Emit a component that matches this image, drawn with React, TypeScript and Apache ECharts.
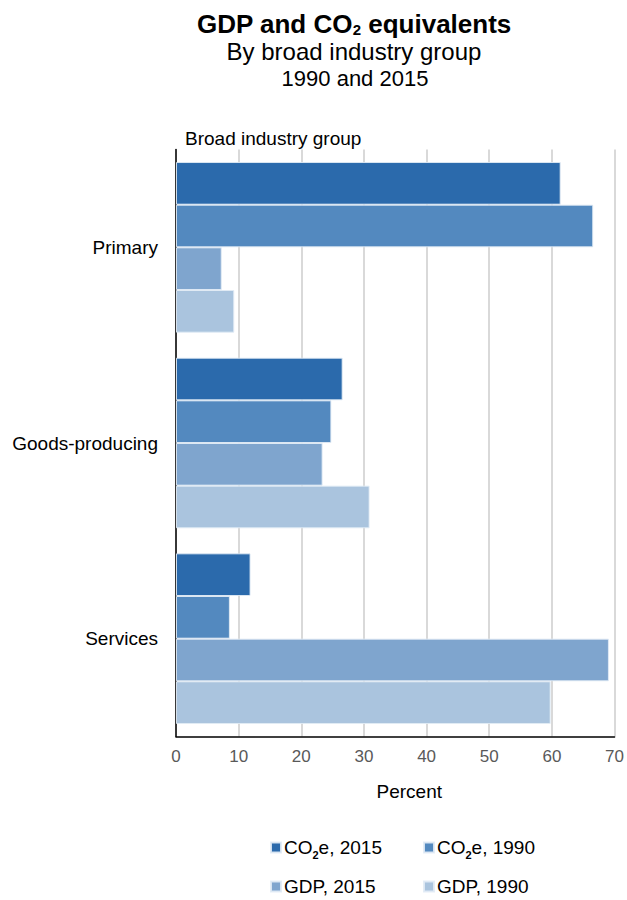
import React, { useEffect, useRef } from "react";
import * as echarts from "echarts";

const categories = ["Primary", "Goods-producing", "Services"];
const seriesNames = ["CO2e, 2015", "CO2e, 1990", "GDP, 2015", "GDP, 1990"];
const co2e2015 = [61.4, 26.6, 11.9];
const co2e1990 = [66.6, 24.8, 8.6];
const gdp2015 = [7.3, 23.4, 69.1];
const gdp1990 = [9.3, 30.9, 59.8];
const seriesValues = [co2e2015, co2e1990, gdp2015, gdp1990];
const colors = ["#2b6aac", "#5389bf", "#7fa5ce", "#aac4de"];
const xTicks = [0, 10, 20, 30, 40, 50, 60, 70];

const FONT = "'Liberation Sans', Arial, sans-serif";

function subName(name: string) {
  if (name.startsWith("CO2e")) {
    return "{a|CO}{s|2}{a|" + name.slice(3) + "}";
  }
  return "{a|" + name + "}";
}

export default function App() {
  const ref = useRef<HTMLDivElement>(null);
  useEffect(() => {
    if (!ref.current) return;
    const chart = echarts.init(ref.current, null, { renderer: "svg" });
    const legendPos = [
      { left: 270, top: 838 },
      { left: 423, top: 838 },
      { left: 270, top: 877 },
      { left: 423, top: 877 },
    ];
    const legendRich = {
      a: { fontSize: 19, color: "#000", fontFamily: FONT },
      s: { fontSize: 11, color: "#000", fontFamily: FONT, fontWeight: "bold" as const, padding: [14, 0, 0, 0] },
    };
    chart.setOption({
      animation: false,
      textStyle: { fontFamily: FONT },
      legend: seriesNames.map((n, i) => ({
        data: [n],
        left: legendPos[i].left,
        top: legendPos[i].top,
        itemWidth: 10,
        itemHeight: 10,
        itemGap: 0,
        icon: "rect",
        selectedMode: false,
        padding: 0,
        formatter: (name: string) => subName(name),
        textStyle: { rich: legendRich, padding: [0, 0, 0, -2] },
      })),
      grid: { left: 176, right: 11, top: 149.5, bottom: 163.5, containLabel: false },
      xAxis: {
        type: "value",
        min: 0,
        max: 70,
        interval: 10,
        name: "Percent",
        nameLocation: "middle",
        nameGap: 45,
        nameTextStyle: { fontSize: 19, color: "#000", fontFamily: FONT, padding: [0, 0, 0, 28] },
        axisLine: { show: true, lineStyle: { color: "#000", width: 1.5 } },
        axisTick: { show: false },
        axisLabel: {
          fontSize: 17,
          color: "#595959",
          margin: 11,
          fontFamily: FONT,
          formatter: (v: number) => (xTicks.includes(v) ? String(v) : ""),
        },
        splitLine: { show: true, lineStyle: { color: "#d9d9d9", width: 2 } },
      },
      yAxis: {
        type: "category",
        data: categories,
        inverse: true,
        axisLine: { show: true, lineStyle: { color: "#000", width: 1.5 } },
        axisTick: { show: false },
        axisLabel: { fontSize: 19, color: "#000", margin: 18, fontFamily: FONT },
        splitLine: { show: false },
      },
      graphic: [
        {
          type: "text",
          x: 354,
          y: 23.5,
          style: {
            text: "{b|GDP and CO}{s|2}{b| equivalents}",
            align: "center",
            verticalAlign: "middle",
            rich: {
              b: { fontSize: 26, lineHeight: 26, fontWeight: "bold", fill: "#000", fontFamily: FONT },
              s: { fontSize: 15, lineHeight: 15, fontWeight: "bold", fill: "#000", fontFamily: FONT, padding: [11, 0, 0, 0] },
            },
          },
        },
        {
          type: "text",
          x: 354,
          y: 51,
          style: {
            text: "By broad industry group",
            align: "center",
            verticalAlign: "middle",
            fontSize: 24,
            lineHeight: 24,
            fill: "#000",
            fontFamily: FONT,
          },
        },
        {
          type: "text",
          x: 355,
          y: 78.5,
          style: {
            text: "1990 and 2015",
            align: "center",
            verticalAlign: "middle",
            fontSize: 22,
            lineHeight: 22,
            fill: "#000",
            fontFamily: FONT,
          },
        },
        {
          type: "text",
          x: 185,
          y: 138.5,
          style: {
            text: "Broad industry group",
            align: "left",
            verticalAlign: "middle",
            fontSize: 19,
            fill: "#000",
            fontFamily: FONT,
          },
        },
      ],
      series: seriesNames.map((n, i) => ({
        type: "bar",
        name: n,
        data: seriesValues[i],
        barGap: "0%",
        barCategoryGap: "12.8%",
        itemStyle: { color: colors[i], borderColor: "rgba(225,235,245,0.9)", borderWidth: 1 },
      })),
    });
    return () => chart.dispose();
  }, []);
  return (
    <div
      ref={ref}
      style={{ position: "fixed", left: 0, top: 0, width: 627, height: 900, background: "#fff" }}
    />
  );
}
